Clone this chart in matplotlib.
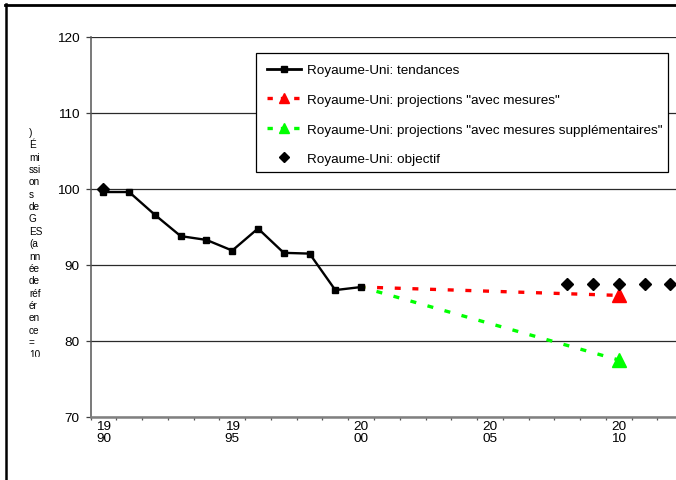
import matplotlib
matplotlib.use("Agg")
import matplotlib.pyplot as plt
from matplotlib.lines import Line2D
from matplotlib.patches import Rectangle

plt.rcParams['font.family'] = ['Liberation Sans', 'DejaVu Sans']

# --- data -------------------------------------------------------------
trend_years = [1990, 1991, 1992, 1993, 1994, 1995, 1996, 1997, 1998, 1999, 2000]
trend_values = [99.6, 99.6, 96.6, 93.8, 93.3, 91.9, 94.8, 91.6, 91.5, 86.7, 87.1]

proj_years = [2000, 2010]
proj_with_measures = [87.1, 86.0]
proj_additional_measures = [87.1, 77.5]

target_years = [1990, 2008, 2009, 2010, 2011, 2012]
target_values = [100, 87.5, 87.5, 87.5, 87.5, 87.5]

label_years = [1990, 1995, 2000, 2005, 2010]
year_labels = ["19\n90", "19\n95", "20\n00", "20\n05", "20\n10"]
y_ticks = [70, 80, 90, 100, 110, 120]

series_names = [
    "Royaume-Uni: tendances",
    'Royaume-Uni: projections "avec mesures"',
    'Royaume-Uni: projections "avec mesures supplémentaires"',
    "Royaume-Uni: objectif",
]
ylabel_pieces = [")", "É", "mi", "ssi", "on", "s", "de", "G", "ES", "(a", "nn",
                 "ée", "de", "réf", "ér", "en", "ce", "=", "10", "0)"]

# --- layout helpers (pixel -> figure fraction) -------------------------
W, H = 676, 481
fig = plt.figure(figsize=(W / 100, H / 100), dpi=100)
fig.patch.set_facecolor("white")


def fx(px):
    return px / W


def fy(py):
    return 1 - py / H


ax = fig.add_axes([fx(90.5), fy(418), 592.7 / W, 380 / H])
ax.set_xlim(1989.5, 2012.5)
ax.set_ylim(70, 120)

# grid and spines
ax.set_yticks(y_ticks)
ax.yaxis.grid(True, color="#2a2a2a", lw=0.9)
ax.set_axisbelow(True)
for s in ("top", "right"):
    ax.spines[s].set_visible(False)
ax.spines["left"].set_color("#555555")
ax.spines["left"].set_linewidth(1.1)
ax.spines["bottom"].set_color("#808080")
ax.spines["bottom"].set_linewidth(1.8)

ax.tick_params(axis="y", direction="out", length=3.4, width=0.9, color="#404040",
               labelsize=9.7, pad=4.5)
ax.set_xticks([1989.5 + k for k in range(24)])
ax.set_xticklabels([])
ax.tick_params(axis="x", which="major", direction="out", length=2.3, width=0.9,
               color="#555555")
ax.set_xticks(label_years, minor=True)
ax.set_xticklabels(year_labels, minor=True, fontsize=9.7, linespacing=1.0)
ax.tick_params(axis="x", which="minor", length=0, pad=2.0)

# --- series ------------------------------------------------------------
dash = (0.5, (1.8, 3.5))
ax.plot(trend_years, trend_values, color="black", lw=1.7,
        marker="s", ms=5, mfc="black", mec="black", zorder=3)
ax.plot(proj_years, proj_with_measures, color="#ff0000", lw=2.4,
        linestyle=dash, dash_capstyle="butt",
        marker="^", ms=10, markevery=[1], mec="#ff0000", zorder=2)
ax.plot(proj_years, proj_additional_measures, color="#00ff00", lw=2.4,
        linestyle=dash, dash_capstyle="butt",
        marker="^", ms=10, markevery=[1], mec="#00ff00", zorder=2)
ax.plot(target_years, target_values, linestyle="none", marker="D",
        ms=6.6, color="black", zorder=4)

# legend keys use smaller markers than the plotted points
keys = [
    Line2D([], [], color="black", lw=2.0, marker="s", ms=5),
    Line2D([], [], color="#ff0000", lw=2.4, linestyle=(0, (1.6, 2.4)),
           dash_capstyle="butt", marker="^", ms=7, mec="#ff0000"),
    Line2D([], [], color="#00ff00", lw=2.4, linestyle=(0, (1.6, 2.4)),
           dash_capstyle="butt", marker="^", ms=7, mec="#00ff00"),
    Line2D([], [], linestyle="none", marker="D", ms=5.2, color="black"),
]

# --- legend --------------------------------------------------------------
frame = Rectangle((fx(256), fy(173)), fx(668) - fx(256), fy(54) - fy(173),
                  transform=fig.transFigure, facecolor="white",
                  edgecolor="black", lw=0.9, zorder=4)
fig.add_artist(frame)
leg = fig.legend(handles=keys, labels=series_names, loc="upper left",
                 bbox_to_anchor=(fx(256), fy(54)), bbox_transform=fig.transFigure,
                 frameon=False, fontsize=9.7, handlelength=2.55,
                 handletextpad=0.45, borderpad=0.82, labelspacing=1.27,
                 borderaxespad=0)
leg.set_zorder(5)
leg.set_in_layout(False)

# --- wrapped vertical axis title, clipped at the bottom ----------------------
clip = Rectangle((0, fy(358)), 1, fy(0) - fy(358), transform=fig.transFigure)
for i, piece in enumerate(ylabel_pieces):
    t = fig.text(fx(29), fy(133 + i * 12.35), piece, fontsize=7.2,
                 ha="left", va="center", color="black")
    t.set_clip_path(clip)

# --- outer frame of the figure (top and left borders) ------------------------
fig.add_artist(Line2D([fx(4.5), 1.0], [fy(5.5), fy(5.5)], transform=fig.transFigure,
                      color="black", lw=2.0))
fig.add_artist(Line2D([fx(5.5), fx(5.5)], [fy(4.5), 0.0], transform=fig.transFigure,
                      color="black", lw=1.8))

fig.savefig("out.png", dpi=100)
